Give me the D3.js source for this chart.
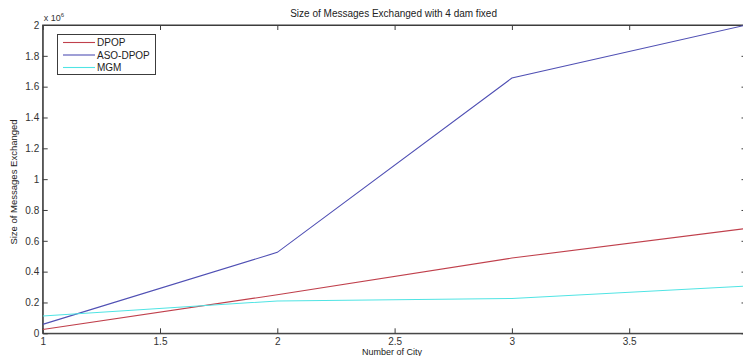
<!DOCTYPE html>
<html>
<head>
<meta charset="utf-8">
<script src="https://d3js.org/d3.v7.min.js"></script>
<style>
  html, body { margin: 0; padding: 0; background: #fff; overflow: hidden; }
  svg { display: block; font-family: "Liberation Sans", Arial, sans-serif; }
</style>
</head>
<body>
<svg id="chart" width="743" height="356"></svg>
<script>
// Number of cities on the x axis
const cities = [1, 2, 3, 4];
// Message sizes, in units of 10^6
const dpop    = [0.025, 0.250, 0.488, 0.680];
const asoDpop = [0.058, 0.525, 1.656, 2.000];
const mgm     = [0.112, 0.210, 0.226, 0.306];

const xTicks = [1, 1.5, 2, 2.5, 3, 3.5, 4];
const yTicks = [0, 0.2, 0.4, 0.6, 0.8, 1, 1.2, 1.4, 1.6, 1.8, 2];

const seriesNames  = ["DPOP", "ASO-DPOP", "MGM"];
const seriesValues = [dpop, asoDpop, mgm];
const seriesColors = ["#c0404c", "#5050b4", "#50e4e4"];

(function drawChart() {
  const svg = d3.select("#chart");
  const plotLeft = 42.7, plotRight = 746.5, plotTop = 25, plotBottom = 333.3;

  const x = d3.scaleLinear().domain([1, 4]).range([plotLeft, plotRight]);
  const y = d3.scaleLinear().domain([0, 2]).range([plotBottom, plotTop]);

  const axisColor = "#3c3c3c";
  const tickLen = 5;
  const fmt = d => d3.format("~g")(d);

  // Box around the plot area
  svg.append("rect")
    .attr("x", plotLeft).attr("y", plotTop)
    .attr("width", plotRight - plotLeft).attr("height", plotBottom - plotTop)
    .attr("fill", "none").attr("stroke", axisColor).attr("stroke-width", 1);

  // Bottom axis: ticks point inward, labels below
  const gx = svg.append("g").attr("transform", `translate(0,${plotBottom})`)
    .call(d3.axisBottom(x).tickValues(xTicks).tickFormat(fmt)
      .tickSizeInner(-tickLen).tickSizeOuter(0).tickPadding(4.5));
  // Top axis: inward ticks, no labels
  const gxt = svg.append("g").attr("transform", `translate(0,${plotTop})`)
    .call(d3.axisTop(x).tickValues(xTicks).tickFormat("").tickSizeInner(-tickLen).tickSizeOuter(0));
  // Left axis: inward ticks, labels on the left
  const gy = svg.append("g").attr("transform", `translate(${plotLeft},0)`)
    .call(d3.axisLeft(y).tickValues(yTicks).tickFormat(fmt)
      .tickSizeInner(-tickLen).tickSizeOuter(0).tickPadding(3.5));
  // Right axis: inward ticks, no labels
  const gyr = svg.append("g").attr("transform", `translate(${plotRight},0)`)
    .call(d3.axisRight(y).tickValues(yTicks).tickFormat("").tickSizeInner(-tickLen).tickSizeOuter(0));

  [gx, gxt, gy, gyr].forEach(g => {
    g.select(".domain").attr("stroke", axisColor);
    g.selectAll(".tick line").attr("stroke", axisColor);
    g.selectAll(".tick text").attr("fill", "#333").style("font-size", "10px")
      .style("font-family", "Liberation Sans, Arial, sans-serif");
  });

  // Exponent marker above the y axis
  const expo = svg.append("text").attr("x", plotLeft + 1).attr("y", plotTop - 4)
    .attr("fill", "#333").style("font-size", "9px");
  expo.append("tspan").text("x 10");
  expo.append("tspan").attr("dy", -4).style("font-size", "6px").text("6");

  // Series lines
  const line = d3.line().x((d, i) => x(cities[i])).y(d => y(d));
  svg.append("clipPath").attr("id", "clip").append("rect")
    .attr("x", plotLeft).attr("y", plotTop - 1)
    .attr("width", plotRight - plotLeft).attr("height", plotBottom - plotTop + 2);
  seriesValues.forEach((vals, k) => {
    svg.append("path").datum(vals)
      .attr("clip-path", "url(#clip)")
      .attr("fill", "none").attr("stroke", seriesColors[k]).attr("stroke-width", 1.1)
      .attr("d", line);
  });

  // Title and axis labels
  svg.append("text").attr("x", (plotLeft + plotRight) / 2 - 1).attr("y", 17)
    .attr("text-anchor", "middle").attr("fill", "#222").style("font-size", "10px")
    .text("Size of Messages Exchanged with 4 dam fixed");
  svg.append("text").attr("x", 392).attr("y", 355)
    .attr("text-anchor", "middle").attr("fill", "#222").style("font-size", "9px")
    .text("Number of City");
  svg.append("text")
    .attr("transform", "translate(17,182) rotate(-90)")
    .attr("text-anchor", "middle").attr("fill", "#222").style("font-size", "9.5px")
    .text("Size of Messages Exchanged");

  // Legend
  const lg = svg.append("g");
  lg.append("rect").attr("x", 57.5).attr("y", 34.5).attr("width", 98).attr("height", 40)
    .attr("fill", "#fff").attr("stroke", axisColor);
  seriesNames.forEach((name, k) => {
    const ly = 42.5 + k * 12.5;
    lg.append("line").attr("x1", 63).attr("x2", 95).attr("y1", ly).attr("y2", ly)
      .attr("stroke", seriesColors[k]).attr("stroke-width", 1.1);
    lg.append("text").attr("x", 97).attr("y", ly + 3.5).attr("fill", "#222")
      .style("font-size", "10px").text(name);
  });
})();
</script>
</body>
</html>
